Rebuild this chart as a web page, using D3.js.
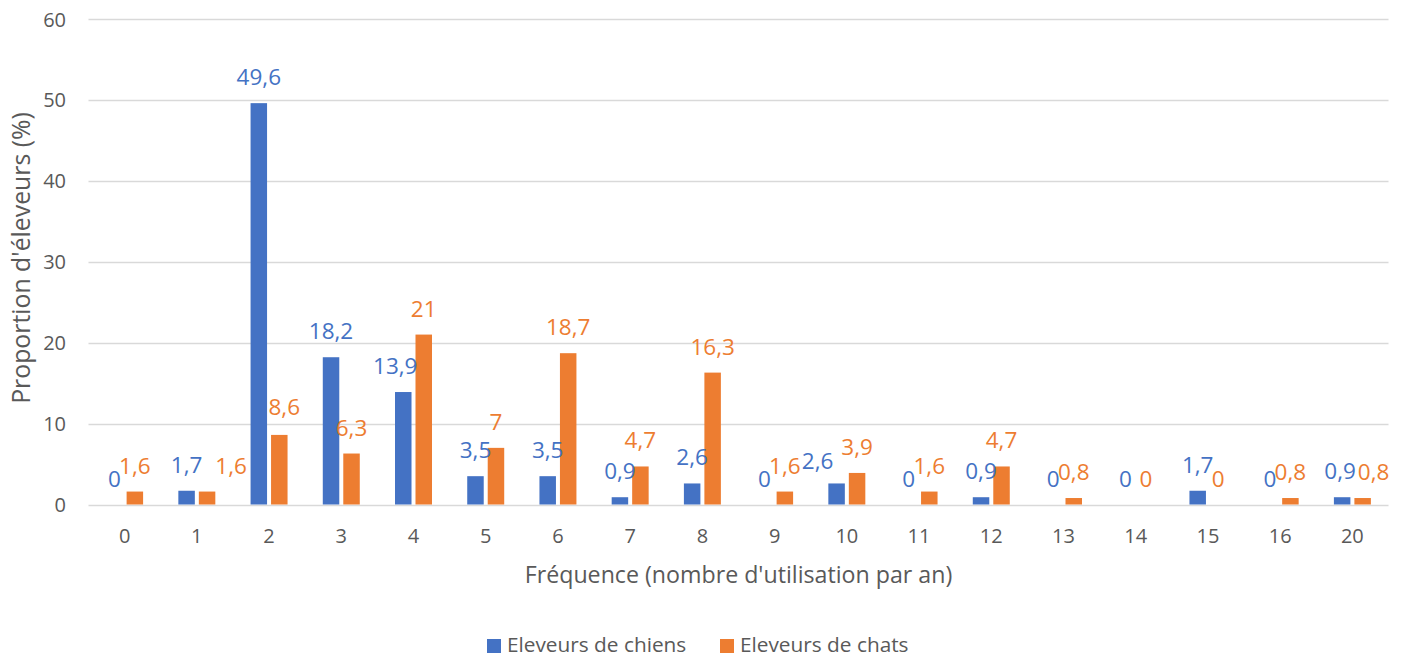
<!DOCTYPE html>
<html lang="fr">
<head>
<meta charset="utf-8">
<script src="https://cdn.jsdelivr.net/npm/d3@7"></script>
<style>
  html, body { margin: 0; padding: 0; background: #fff; }
  svg text { font-family: "Open Sans", "Noto Sans", sans-serif; }
</style>
</head>
<body>
<svg id="chart" width="1411" height="659"></svg>
<script>
// Fréquence d'utilisation (nombre par an) et part des éleveurs (%)
const categories = ["0", "1", "2", "3", "4", "5", "6", "7", "8", "9", "10", "11", "12", "13", "14", "15", "16", "20"];
const seriesNames = ["Eleveurs de chiens", "Eleveurs de chats"];
const chiens = [0, 1.7, 49.6, 18.2, 13.9, 3.5, 3.5, 0.9, 2.6, 0, 2.6, 0, 0.9, 0, 0, 1.7, 0, 0.9];
const chats  = [1.6, 1.6, 8.6, 6.3, 21, 7, 18.7, 4.7, 16.3, 1.6, 3.9, 1.6, 4.7, 0.8, 0, 0, 0.8, 0.8];
const yTicks = [0, 10, 20, 30, 40, 50, 60];
const colors = ["#4472C4", "#ED7D31"];

// Labels moved sideways/up where they would collide with a neighbour
const labelNudge = {
  "chats-1": [24, 0],
  "chats-2": [5, -2],
  "chiens-4": [-8, 0],
  "chiens-10": [-19, 4],
  "chiens-20": [-2, 0],
  "chats-20": [11, 0]
};

const svg = d3.select("#chart");
const plotLeft = 88.5, plotRight = 1388.5, plotTop = 19, plotBottom = 504.5;

const x0 = d3.scaleBand().domain(categories).range([plotLeft, plotRight]).padding(0);
const x1 = d3.scaleBand().domain(["chiens", "chats"]).range([0, x0.bandwidth()])
  .paddingInner(0.195).paddingOuter(0.86);
const y = d3.scaleLinear().domain([0, 60]).range([plotBottom, plotTop]);

const textColor = "#595959";

// Horizontal gridlines
svg.append("g")
  .selectAll("line")
  .data(yTicks)
  .join("line")
  .attr("x1", plotLeft).attr("x2", plotRight)
  .attr("y1", d => Math.round(y(d)) + 0.5).attr("y2", d => Math.round(y(d)) + 0.5)
  .attr("stroke", "#D9D9D9").attr("stroke-width", 1.3);

// Y axis tick labels
svg.append("g")
  .selectAll("text")
  .data(yTicks)
  .join("text")
  .attr("x", 66).attr("y", d => y(d) + 7.5)
  .attr("text-anchor", "end")
  .attr("font-size", 20)
  .attr("fill", textColor)
  .text(d => d);

// X axis tick labels
svg.append("g")
  .selectAll("text")
  .data(categories)
  .join("text")
  .attr("x", d => x0(d) + x0.bandwidth() / 2)
  .attr("y", 543)
  .attr("text-anchor", "middle")
  .attr("font-size", 20)
  .attr("fill", textColor)
  .text(d => d);

// Bars
const rows = categories.map((c, i) => ({ cat: c, values: [
  { key: "chiens", v: chiens[i], color: colors[0] },
  { key: "chats", v: chats[i], color: colors[1] }
]}));

const groups = svg.append("g")
  .selectAll("g")
  .data(rows)
  .join("g")
  .attr("transform", d => `translate(${x0(d.cat)},0)`);

groups.selectAll("rect")
  .data(d => d.values)
  .join("rect")
  .attr("x", d => x1(d.key))
  .attr("width", x1.bandwidth())
  .attr("y", d => y(d.v))
  .attr("height", d => y(0) - y(d.v))
  .attr("fill", d => d.color);

// Value labels above each bar
const nudge = d => labelNudge[d.key + "-" + d.cat] || [0, 0];
groups.selectAll("text")
  .data(d => d.values.map(v => ({ ...v, cat: d.cat })))
  .join("text")
  .attr("x", d => x1(d.key) + x1.bandwidth() / 2 + nudge(d)[0])
  .attr("y", d => y(d.v) - 18 + nudge(d)[1])
  .attr("text-anchor", "middle")
  .attr("font-size", 22.5)
  .attr("fill", d => d.color)
  .text(d => String(d.v).replace(".", ","));

// Axis titles
svg.append("text")
  .attr("x", (plotLeft + plotRight) / 2)
  .attr("y", 583)
  .attr("text-anchor", "middle")
  .attr("font-size", 23.2)
  .attr("fill", textColor)
  .text("Fréquence (nombre d'utilisation par an)");

svg.append("text")
  .attr("transform", "translate(30,258) rotate(-90)")
  .attr("text-anchor", "middle")
  .attr("font-size", 24.8)
  .attr("fill", textColor)
  .text("Proportion d'éleveurs (%)");

// Legend
const legendItems = [
  { name: seriesNames[0], color: colors[0], x: 487 },
  { name: seriesNames[1], color: colors[1], x: 720 }
];
const legend = svg.append("g")
  .selectAll("g")
  .data(legendItems)
  .join("g")
  .attr("transform", d => `translate(${d.x},639)`);
legend.append("rect").attr("width", 14).attr("height", 14).attr("fill", d => d.color);
legend.append("text")
  .attr("x", 20).attr("y", 13)
  .attr("font-size", 20.8)
  .attr("fill", textColor)
  .text(d => d.name);
</script>
</body>
</html>
